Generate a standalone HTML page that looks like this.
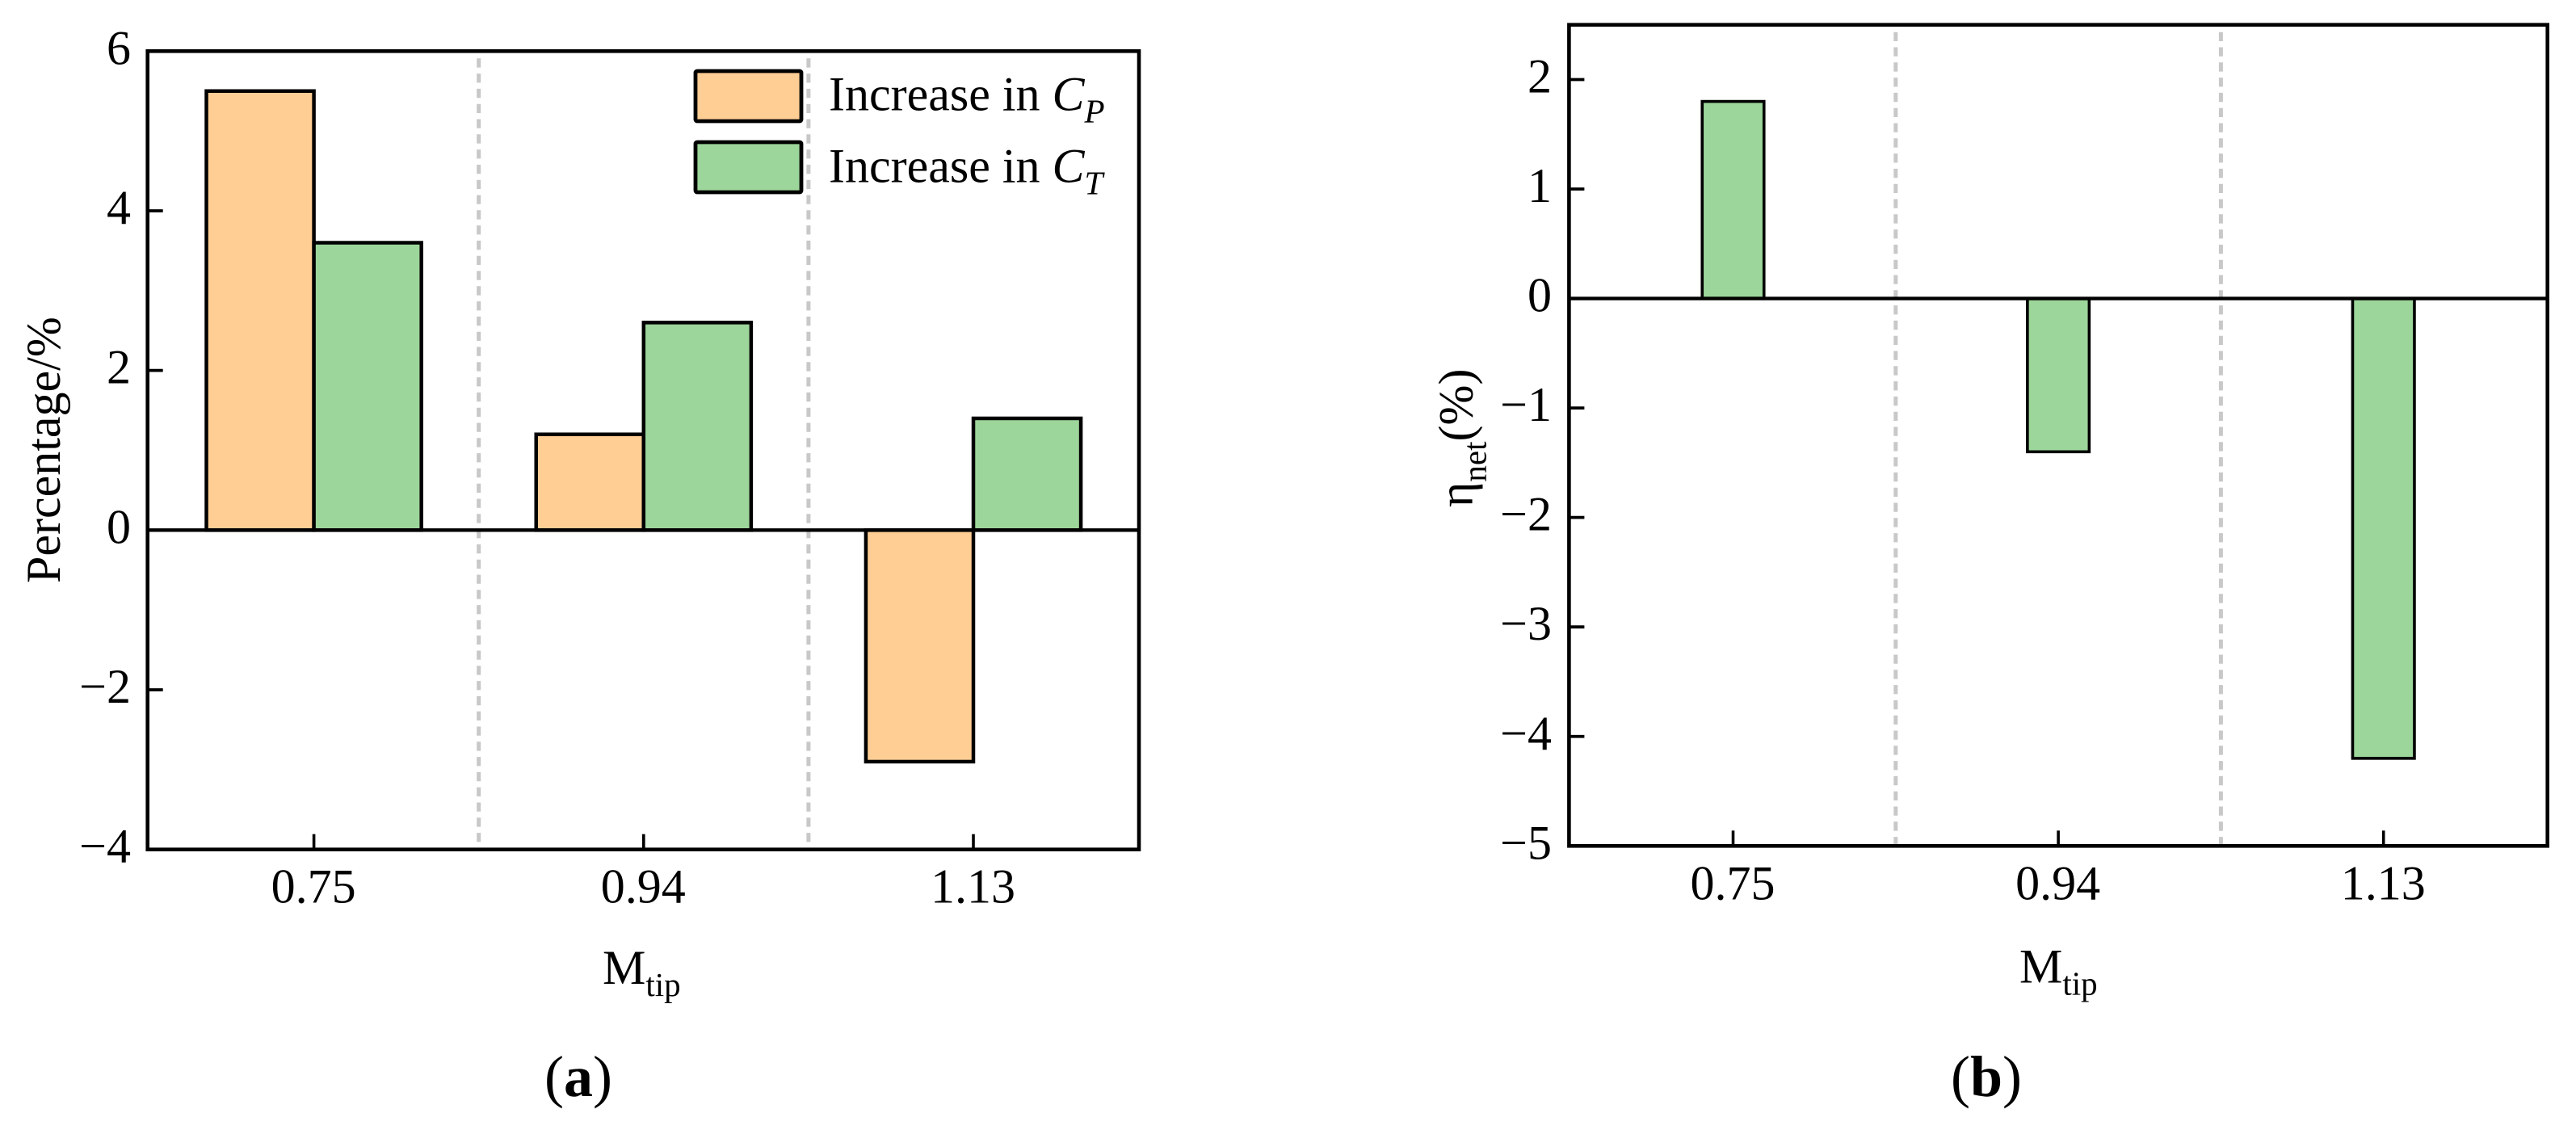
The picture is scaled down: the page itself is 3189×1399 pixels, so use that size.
<!DOCTYPE html>
<html lang="en">
<head>
<meta charset="utf-8">
<title>Percentage increase and net efficiency versus tip Mach number</title>
<style>
  html, body { margin: 0; padding: 0; background: #fff; }
  svg { display: block; }
  text { font-family: "Liberation Serif", serif; font-size: 60px; fill: #000; }
</style>
</head>
<body>
<svg id="figure" xmlns="http://www.w3.org/2000/svg" width="3189" height="1399" viewBox="0 0 3189 1399">
  <rect x="0" y="0" width="3189" height="1399" fill="#fff"/>
  <g id="panelA"></g>
  <g id="panelB"></g>

  <g>
    <g>
      <rect x="861" y="88" width="131" height="62" rx="2" fill="#FFCE94" stroke="#000" stroke-width="4.8"/>
      <text x="1026" y="136.5">Increase in <tspan font-style="italic">C</tspan><tspan font-style="italic" style="font-size:41px" dy="15">P</tspan></text>
    </g>
    <g>
      <rect x="861" y="176" width="131" height="62" rx="2" fill="#9DD69A" stroke="#000" stroke-width="4.8"/>
      <text x="1026" y="225.5">Increase in <tspan font-style="italic">C</tspan><tspan font-style="italic" style="font-size:41px" dy="15">T</tspan></text>
    </g>
  </g>

  <text transform="translate(74 722) rotate(-90)">Percentage/%</text>
  <text transform="translate(1822.5 628) rotate(-90)">η<tspan style="font-size:41px" dy="17">net</tspan><tspan dy="-17">(%)</tspan></text>

  <text x="746" y="1218">M<tspan style="font-size:41px" dy="15">tip</tspan></text>
  <text x="2500" y="1216.5">M<tspan style="font-size:41px" dy="15">tip</tspan></text>

  <text x="716" y="1357" text-anchor="middle" style="font-size:72px">(<tspan font-weight="bold">a</tspan>)</text>
  <text x="2459" y="1357" text-anchor="middle" style="font-size:72px">(<tspan font-weight="bold">b</tspan>)</text>
</svg>

<script>
// ---- chart data ----
const categories = ['0.75', '0.94', '1.13'];
const increaseCP = [5.5, 1.2, -2.9];
const increaseCT = [3.6, 2.6, 1.4];
const etaNet = [1.8, -1.4, -4.2];
const yTicksA = [6, 4, 2, 0, -2, -4];
const yTicksB = [2, 1, 0, -1, -2, -3, -4, -5];
const separators = [0.5, 1.5];

// ---- layout ----
const SVG_NS = 'http://www.w3.org/2000/svg';
const COLOR_CP = '#FFCE94';
const COLOR_CT = '#9DD69A';

function scale(d0, d1, r0, r1) {
  return function (v) { return r0 + (v - d0) * (r1 - r0) / (d1 - d0); };
}
function make(tag, attrs, parent) {
  const el = document.createElementNS(SVG_NS, tag);
  for (const k in attrs) el.setAttribute(k, attrs[k]);
  parent.appendChild(el);
  return el;
}
function fmt(v) { return String(v).replace('-', '\u2212'); }

function drawBar(parent, x0, x1, y0, y1, fill, sw, name) {
  const el = make('rect', {
    x: Math.min(x0, x1), y: Math.min(y0, y1),
    width: Math.abs(x1 - x0), height: Math.abs(y1 - y0),
    fill: fill, stroke: '#000', 'stroke-width': sw
  }, parent);
  
  
}

function drawSeparators(parent, box, xs) {
  separators.forEach(function (s) {
    const el = make('line', {
      x1: xs(s), x2: xs(s), y1: box.top + 9, y2: box.bottom,
      stroke: '#C8C8C8', 'stroke-width': 5, 'stroke-dasharray': '11.3 7.5'
    }, parent);
    
    
  });
}

function drawAxes(parent, box, xs, ys, ticks, opts) {
  // zero line
  const zero = make('line', {
    x1: box.left, x2: box.right, y1: ys(0), y2: ys(0),
    stroke: '#000', 'stroke-width': 4.4
  }, parent);
  
  

  // y ticks + labels
  ticks.forEach(function (t) {
    const tick = make('line', {
      x1: box.left, x2: box.left + 19, y1: ys(t), y2: ys(t),
      stroke: '#000', 'stroke-width': 3.8
    }, parent);
    
    

    const label = make('text', {
      x: opts.yLabelX, y: ys(t) + 16, 'text-anchor': 'end'
    }, parent);
    label.textContent = fmt(t);
    
    
  });

  // x ticks + labels
  categories.forEach(function (c, i) {
    const tick = make('line', {
      x1: xs(i), x2: xs(i), y1: box.bottom - 19, y2: box.bottom,
      stroke: '#000', 'stroke-width': 3.6
    }, parent);
    
    

    const label = make('text', {
      x: xs(i) - 0.5, y: opts.xLabelY, 'text-anchor': 'middle'
    }, parent);
    label.textContent = c;
    
    
  });

  // spine box
  const frame = make('rect', {
    x: box.left, y: box.top,
    width: box.right - box.left, height: box.bottom - box.top,
    fill: 'none', stroke: '#000', 'stroke-width': 4.6
  }, parent);
  
  
}

// ---- panel (a) ----
(function () {
  const parent = document.getElementById('panelA');
  const box = { left: 182.7, right: 1410, top: 63.3, bottom: 1051.7 };
  const xs = scale(-0.5044, 2.5022, box.left, box.right);
  const ys = scale(-4, 6, box.bottom, box.top);
  const barSpan = 0.326;

  drawSeparators(parent, box, xs);
  categories.forEach(function (c, i) {
    drawBar(parent, xs(i - barSpan), xs(i), ys(0), ys(increaseCP[i]), COLOR_CP, 4.5, 'bar-cp-' + c);
    drawBar(parent, xs(i), xs(i + barSpan), ys(0), ys(increaseCT[i]), COLOR_CT, 4.5, 'bar-ct-' + c);
  });
  drawAxes(parent, box, xs, ys, yTicksA, { yLabelX: 162, xLabelY: 1117.5 });
})();

// ---- panel (b) ----
(function () {
  const parent = document.getElementById('panelB');
  const box = { left: 1942.4, right: 3153.7, top: 30.7, bottom: 1047.3 };
  const xs = scale(-0.5045, 2.5042, box.left, box.right);
  const ys = scale(-5, 2.5, box.bottom, box.top);
  const barSpan = 0.095;

  drawSeparators(parent, box, xs);
  categories.forEach(function (c, i) {
    drawBar(parent, xs(i - barSpan), xs(i + barSpan), ys(0), ys(etaNet[i]), COLOR_CT, 3.6, 'bar-eta-' + c);
  });
  drawAxes(parent, box, xs, ys, yTicksB, { yLabelX: 1921, xLabelY: 1113.5 });
})();
</script>
</body>
</html>
